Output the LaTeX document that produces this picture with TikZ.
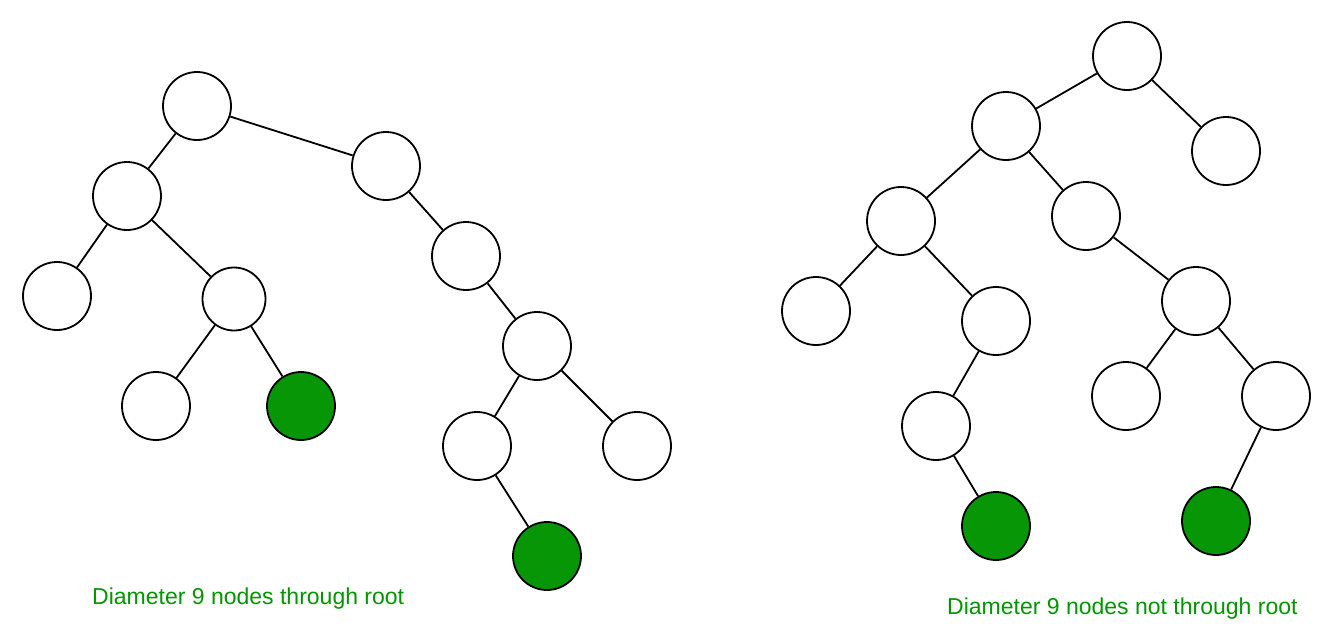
\documentclass[tikz,border=0pt]{standalone}
\usepackage{fontspec}
\setmainfont{Liberation Sans}
\definecolor{treegreen}{RGB}{6,150,6}
\definecolor{textgreen}{RGB}{0,150,0}
\begin{document}
\begin{tikzpicture}[x=1pt,y=-1pt,
  tnode/.style={circle,draw=black,line width=1.8pt,fill=white,minimum size=68pt,inner sep=0pt},
  gnode/.style={tnode,fill=treegreen},
  edge/.style={line width=1.8pt},
  caption/.style={anchor=base west,text=textgreen,font=\fontsize{23}{27}\selectfont,inner sep=0pt}]
\useasboundingbox[fill=white] (0,0) rectangle (1337,640);
% left tree
\node[tnode] (a) at (197,106) {};
\node[tnode] (b) at (127,196) {};
\node[tnode] (c) at (386,166) {};
\node[tnode] (d) at (57,296) {};
\node[tnode,minimum size=63pt] (e) at (234,299) {};
\node[tnode] (f) at (156,406) {};
\node[gnode] (g) at (301,406) {};
\node[tnode] (h) at (466,256) {};
\node[tnode] (i) at (537,346) {};
\node[tnode] (j) at (477,446) {};
\node[tnode] (k) at (637,446) {};
\node[gnode] (l) at (547,556) {};
\draw[edge] (a) -- (b);
\draw[edge] (a) -- (c);
\draw[edge] (b) -- (d);
\draw[edge] (b) -- (e);
\draw[edge] (e) -- (f);
\draw[edge] (e) -- (g);
\draw[edge] (c) -- (h);
\draw[edge] (h) -- (i);
\draw[edge] (i) -- (j);
\draw[edge] (i) -- (k);
\draw[edge] (j) -- (l);
% right tree
\node[tnode] (r) at (1127,56) {};
\node[tnode] (s) at (1006,126) {};
\node[tnode] (t) at (1226,151) {};
\node[tnode] (u) at (901,221) {};
\node[tnode] (v) at (1086,216) {};
\node[tnode] (w) at (816,311) {};
\node[tnode] (x) at (996,321) {};
\node[tnode] (y) at (1196,301) {};
\node[tnode] (z) at (936,426) {};
\node[tnode] (aa) at (1126,396) {};
\node[tnode] (ab) at (1276,396) {};
\node[gnode] (ac) at (996,526) {};
\node[gnode] (ad) at (1216,521) {};
\draw[edge] (r) -- (s);
\draw[edge] (r) -- (t);
\draw[edge] (s) -- (u);
\draw[edge] (s) -- (v);
\draw[edge] (u) -- (w);
\draw[edge] (u) -- (x);
\draw[edge] (x) -- (z);
\draw[edge] (z) -- (ac);
\draw[edge] (v) -- (y);
\draw[edge] (y) -- (aa);
\draw[edge] (y) -- (ab);
\draw[edge] (ab) -- (ad);
% captions
\node[caption] (cap1) at (92,604) {Diameter 9 nodes through root};
\node[caption] (cap2) at (947,614) {Diameter 9 nodes not through root};
\end{tikzpicture}
\end{document}
